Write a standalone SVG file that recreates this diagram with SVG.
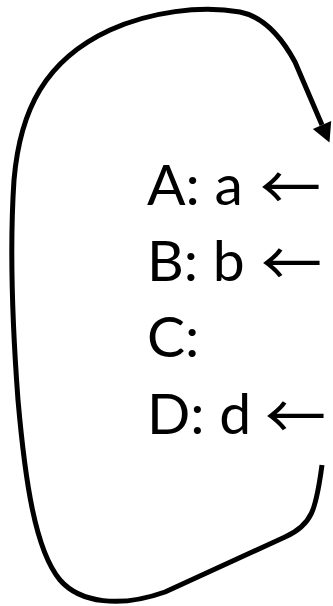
<svg xmlns="http://www.w3.org/2000/svg" width="333" height="606" viewBox="0 0 333 606">
<style>
.t{font-family:Lato,"Liberation Sans",sans-serif;font-size:57px;fill:#000}
.ar{font-family:"Noto Sans CJK JP",sans-serif;font-size:61px;fill:#000}
.c{fill:none;stroke:#000;stroke-width:5;stroke-linecap:butt;stroke-linejoin:round}
</style>
<defs>
<marker id="h" markerUnits="userSpaceOnUse" markerWidth="24" markerHeight="24" refX="0" refY="10" orient="auto" overflow="visible">
<path d="M0,0 L19,10 L0,20 z" fill="#000"/>
</marker>
</defs>
<rect width="333" height="606" fill="#fff"/>
<g id="connectors">
<path class="c" marker-end="url(#h)" d="M322,465 C316,510 312,525 285,537 L165,592 C120,608 80,603 60,580 C35,550 25,480 18,400 C12,320 10,240 14,180 C20,110 45,60 110,30 C150,12 200,5 240,12 C265,17 282,38 295,62 L322,125"/>
</g>
<g id="lineA"><text class="t" x="147" y="205">A: a<tspan class="ar" x="260" y="210">←</tspan></text></g>
<g id="lineB"><text class="t" x="147" y="281">B: b<tspan class="ar" x="261" y="286">←</tspan></text></g>
<g id="lineC"><text class="t" x="147" y="357">C:</text></g>
<g id="lineD"><text class="t" x="147" y="434">D: d<tspan class="ar" x="265" y="439">←</tspan></text></g>
</svg>
